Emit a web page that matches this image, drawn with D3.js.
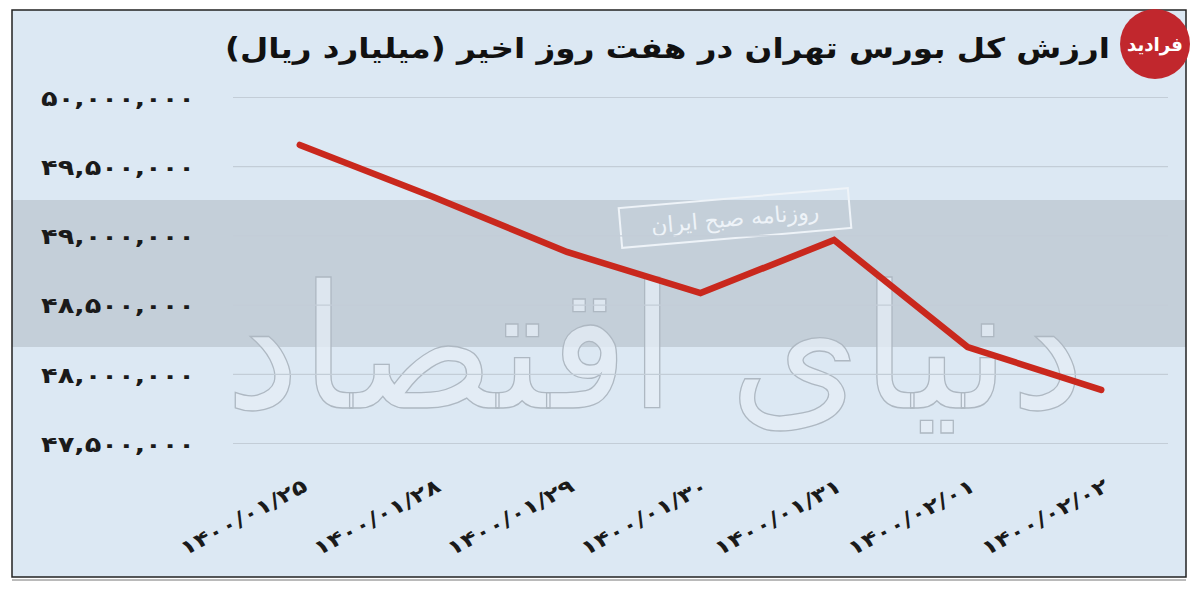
<!DOCTYPE html>
<html>
<head>
<meta charset="utf-8">
<script src="https://cdn.jsdelivr.net/npm/d3@7"></script>
<style>
  html, body { margin: 0; padding: 0; background: #ffffff; }
  svg { display: block; }
</style>
</head>
<body>
<svg id="chart" width="1200" height="589"></svg>
<script>
// ---- data ----
const categories = ["۱۴۰۰/۰۱/۲۵", "۱۴۰۰/۰۱/۲۸", "۱۴۰۰/۰۱/۲۹", "۱۴۰۰/۰۱/۳۰", "۱۴۰۰/۰۱/۳۱", "۱۴۰۰/۰۲/۰۱", "۱۴۰۰/۰۲/۰۲"];
const values = [49657000, 49281000, 48884000, 48587000, 48970000, 48197000, 47887000];
const tickValues = [47500000, 48000000, 48500000, 49000000, 49500000, 50000000];
const tickLabels = ["۴۷,۵۰۰,۰۰۰", "۴۸,۰۰۰,۰۰۰", "۴۸,۵۰۰,۰۰۰", "۴۹,۰۰۰,۰۰۰", "۴۹,۵۰۰,۰۰۰", "۵۰,۰۰۰,۰۰۰"];
const title = "ارزش کل بورس تهران در هفت روز اخیر (میلیارد ریال)";
const watermark = "دنیای اقتصاد";
const stamp = "روزنامه صبح ایران";
const logoText = "فرادید";

const svg = d3.select("#chart");
const font = "'DejaVu Sans', 'Noto Sans', sans-serif";

// frame + background
svg.append("rect").attr("x", 12).attr("y", 10).attr("width", 1174).attr("height", 567)
  .attr("fill", "#dce8f3");
svg.append("rect").attr("x", 12).attr("y", 200).attr("width", 1174).attr("height", 147)
  .attr("fill", "#c4cfd9");

// watermark
svg.append("text")
  .attr("x", 655).attr("y", 408)
  .attr("text-anchor", "middle")
  .attr("direction", "rtl")
  .attr("font-family", font)
  .attr("font-size", 172)
  .attr("textLength", 860)
  .attr("lengthAdjust", "spacingAndGlyphs")
  .attr("fill", "#e6eef6")
  .attr("fill-opacity", 0.75)
  .attr("stroke", "#aeb8c2")
  .attr("stroke-width", 1.3)
  .text(watermark);

// stamp
const st = svg.append("g").attr("transform", "translate(735,218) rotate(-5)");
st.append("rect").attr("x", -115).attr("y", -20).attr("width", 230).attr("height", 40)
  .attr("fill", "none").attr("stroke", "#eef3f8").attr("stroke-width", 2);
st.append("text").attr("x", 0).attr("y", 8).attr("text-anchor", "middle")
  .attr("direction", "rtl")
  .attr("font-family", font).attr("font-size", 22).attr("fill", "#eef3f8")
  .text(stamp);

// scales
const x = d3.scalePoint().domain(categories).range([233, 1168]).padding(0.5);
const y = d3.scaleLinear().domain([47500000, 50000000]).range([443.5, 97.5]);

// gridlines
svg.append("g")
  .selectAll("line").data(tickValues).join("line")
  .attr("x1", 233).attr("x2", 1168)
  .attr("y1", d => y(d)).attr("y2", d => y(d))
  .attr("stroke", "#c3cdd7").attr("stroke-width", 1.2);

// y axis
const yAxis = d3.axisLeft(y).tickValues(tickValues)
  .tickFormat((d, i) => tickLabels[i]).tickSize(0).tickPadding(0);
const gy = svg.append("g").attr("transform", "translate(195,0)").call(yAxis);
gy.select(".domain").remove();
gy.selectAll("text")
  .attr("font-family", font).attr("font-weight", "bold").attr("font-size", 22)
  .attr("fill", "#1a1a1a").attr("direction", "ltr").attr("dy", "0.35em")
  .attr("textLength", 154).attr("lengthAdjust", "spacingAndGlyphs");

// x axis
const xAxis = d3.axisBottom(x).tickSize(0).tickPadding(0);
const gx = svg.append("g").attr("transform", "translate(5,484)").call(xAxis);
gx.select(".domain").remove();
gx.selectAll("text")
  .attr("font-family", font).attr("font-weight", "bold").attr("font-size", 20)
  .attr("fill", "#1a1a1a").attr("direction", "ltr")
  .attr("text-anchor", "end").attr("dy", "0.35em").attr("y", 0)
  .attr("transform", "rotate(-28)")
  .attr("textLength", 140).attr("lengthAdjust", "spacingAndGlyphs");

// line
const line = d3.line().x((d, i) => x(categories[i])).y(d => y(d));
svg.append("path").datum(values)
  .attr("d", line)
  .attr("fill", "none")
  .attr("stroke", "#c9281d")
  .attr("stroke-width", 6.5)
  .attr("stroke-linecap", "round")
  .attr("stroke-linejoin", "miter");

// frame border
svg.append("rect").attr("x", 12).attr("y", 10).attr("width", 1174).attr("height", 567)
  .attr("fill", "none").attr("stroke", "#222").attr("stroke-width", 1.5);
svg.append("line").attr("x1", 12).attr("x2", 1186).attr("y1", 580).attr("y2", 580)
  .attr("stroke", "#777").attr("stroke-width", 1);

// title
svg.append("text")
  .attr("x", 1110).attr("y", 58)
  .attr("text-anchor", "start")
  .attr("direction", "rtl")
  .attr("font-family", font).attr("font-weight", "bold").attr("font-size", 28)
  .attr("fill", "#111")
  .attr("textLength", 885).attr("lengthAdjust", "spacingAndGlyphs")
  .text(title);

// logo
svg.append("circle").attr("cx", 1155).attr("cy", 44).attr("r", 35).attr("fill", "#c1272d");
svg.append("text").attr("x", 1155).attr("y", 51).attr("text-anchor", "middle")
  .attr("direction", "rtl")
  .attr("font-family", font).attr("font-weight", "bold").attr("font-size", 19)
  .attr("textLength", 56).attr("lengthAdjust", "spacingAndGlyphs")
  .attr("fill", "#ffffff")
  .text(logoText);
</script>
</body>
</html>
